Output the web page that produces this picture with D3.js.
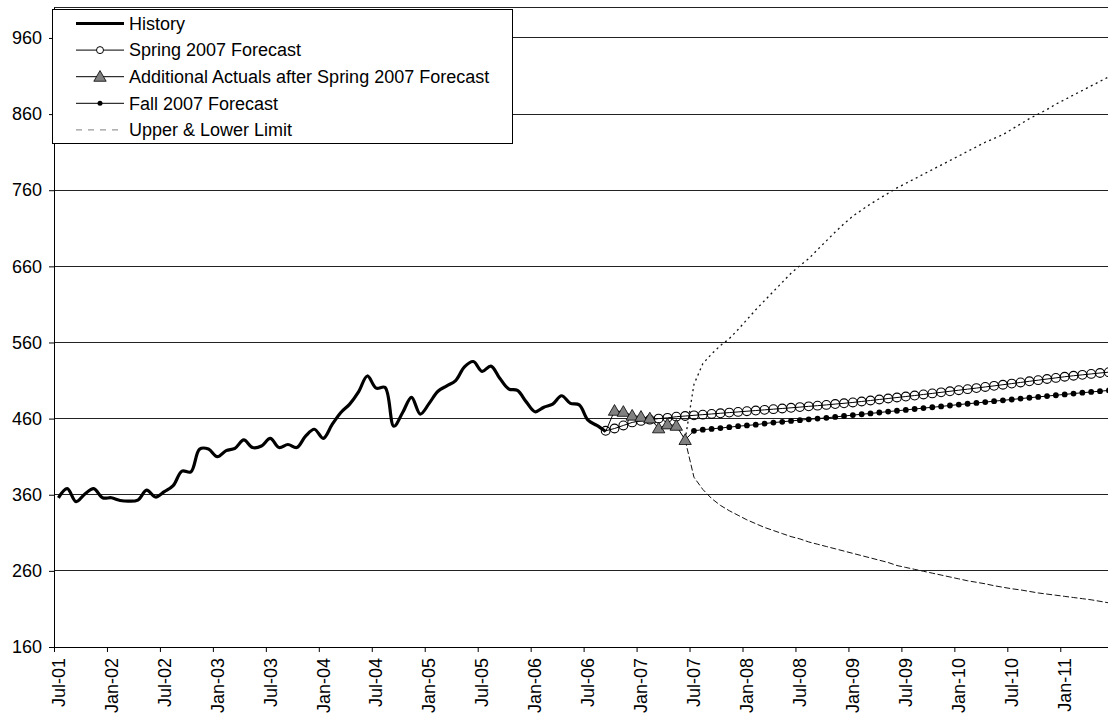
<!DOCTYPE html>
<html>
<head>
<meta charset="utf-8">
<script src="https://cdn.jsdelivr.net/npm/d3@7"></script>
<style>
  html, body { margin: 0; padding: 0; background: #fff; }
  svg { display: block; font-family: "Liberation Sans", Arial, sans-serif; }
</style>
</head>
<body>
<svg id="chart" width="1108" height="721"></svg>
<script>
// ---- data ----
const categoryCount = 120; // monthly categories Jul-01 .. Jun-11
const tickLabels = ["Jul-01","Jan-02","Jul-02","Jan-03","Jul-03","Jan-04","Jul-04","Jan-05","Jul-05","Jan-06",
                    "Jul-06","Jan-07","Jul-07","Jan-08","Jul-08","Jan-09","Jul-09","Jan-10","Jul-10","Jan-11"];
const yTicks = [160, 260, 360, 460, 560, 660, 760, 860, 960];

const historyStart = 0;
const history = [356,368,351,361,368,356,356,352.5,351.5,353,366,357,364,372,391,390,420,420,410,418,
                 421,432,422,424,434,422,426,422,437,446,434,452,468,479,495,516,500,501,450,468,
                 488,466,480,496,503,510,528,535,522,529,513,499,497,482,469,475,479,490,480,478,
                 458,451,443];

const springStart = 62;
const spring = [444,447,451,455,457,458.6,460,461,462.5,463.4,
                464.3,465.2,466.1,467.0,467.9,468.8,469.7,470.6,471.5,472.4,473.3,474.2,475.1,476.1,477.0,478.0,
                479.1,480.1,481.2,482.5,483.8,485.1,486.4,487.7,489.0,490.3,491.7,493.1,494.5,495.9,497.3,498.7,
                500.1,501.6,503.0,504.5,506.0,507.5,509.0,510.5,512.0,513.5,515.0,516.3,517.5,518.7,519.9,521.0];

const actualsStart = 62;
const actuals = [443,470.4,469,464,462.5,460.4,447.3,452.5,450.7,432];

const fallStart = 71;
const fall = [432,444.0,445.5,446.5,447.6,448.8,450.0,451.0,452.0,453.5,454.8,455.8,457.0,458.0,459.0,460.0,461.0,
              462.2,463.4,464.6,465.7,466.8,468.0,469.2,470.3,471.4,472.6,473.8,474.9,476.0,477.2,478.4,479.5,
              480.6,481.7,482.9,484.0,485.1,486.3,487.4,488.5,489.6,490.7,491.8,492.9,494.0,495.0,496.0,497.0];

const limitStart = 71;
const upper = [432,505,532,545,556,565,577,590,603,615,627,639,651,661,670,682,693.5,705,716,726,734,742,749,756,763,
               769,775,781,787,793,799,805,811,817,823,828,833,840,847,854,860,866,873,879,885,891,897,903,909];
const lower = [432,383,367,355,346,339,333,327,322,317,313,309,305,302,298,295,292,289,286,283,280,277,274,271,267,
               264.5,262,259.5,257,254.5,252,249.5,247,245,243,240.5,238.5,236.5,235,233,231,229.5,228,226.5,225,
               223.5,222,220,218,216];

const legendItems = ["History","Spring 2007 Forecast","Additional Actuals after Spring 2007 Forecast","Fall 2007 Forecast","Upper & Lower Limit"];

// ---- layout ----
const svg = d3.select("#chart");
const plotLeft = 54, plotTop = 7.5, plotBottom = 647, step = 8.827;
const plotRight = plotLeft + categoryCount * step;
const FONT = 18;

const x = d3.scaleLinear().domain([0, categoryCount]).range([plotLeft, plotRight]);
const y = d3.scaleLinear().domain([160, 1000]).range([plotBottom, plotTop]);
const cx = i => x(i + 0.5);

const toPts = (arr, start) => arr.map((v, i) => [start + i, v]);

// gridlines
svg.append("g").selectAll("line").data(yTicks.slice(1)).join("line")
  .attr("x1", plotLeft).attr("x2", plotRight).attr("y1", d => y(d)).attr("y2", d => y(d))
  .attr("stroke", "#222").attr("stroke-width", 1).attr("shape-rendering", "crispEdges");
// plot top border
svg.append("line").attr("x1", plotLeft).attr("x2", plotRight).attr("y1", y(1000)).attr("y2", y(1000))
  .attr("stroke", "#222").attr("shape-rendering", "crispEdges");

// y axis
const yAxis = d3.axisLeft(y).tickValues(yTicks).tickSize(5).tickSizeOuter(0).tickPadding(7);
const gy = svg.append("g").attr("transform", `translate(${plotLeft},0)`).call(yAxis);
gy.select(".domain").attr("stroke", "#000").attr("shape-rendering", "crispEdges")
  .attr("d", `M0,${plotBottom}V${plotTop}`);
gy.selectAll(".tick line").attr("stroke", "#000");
gy.selectAll("text").attr("font-size", FONT).attr("fill", "#000").style("font-family", "Liberation Sans, Arial, sans-serif");

// x axis
const tickIdx = tickLabels.map((_, k) => k * 6);
const xAxis = d3.axisBottom(x).tickValues(tickIdx).tickSize(5).tickSizeOuter(0).tickFormat(() => "");
const gx = svg.append("g").attr("transform", `translate(0,${plotBottom})`).call(xAxis);
gx.select(".domain").attr("stroke", "#000").attr("shape-rendering", "crispEdges");
gx.selectAll(".tick line").attr("stroke", "#000");
svg.append("g").selectAll("text").data(tickLabels).join("text")
  .attr("transform", (d, k) => `translate(${cx(k * 6)},${plotBottom + 11}) rotate(-90)`)
  .attr("text-anchor", "end").attr("dy", "0.35em")
  .attr("font-size", FONT).attr("fill", "#000").text(d => d);

// lines
const lineSmooth = d3.line().x(d => cx(d[0])).y(d => y(d[1])).curve(d3.curveCatmullRom.alpha(0.5));
const lineStraight = d3.line().x(d => cx(d[0])).y(d => y(d[1]));

svg.append("path").datum(toPts(upper, limitStart)).attr("d", lineStraight)
  .attr("fill", "none").attr("stroke", "#111").attr("stroke-width", 1.3).attr("stroke-dasharray", "2,3.5");
svg.append("path").datum(toPts(lower, limitStart)).attr("d", lineStraight)
  .attr("fill", "none").attr("stroke", "#111").attr("stroke-width", 1).attr("stroke-dasharray", "6,2.5");

svg.append("path").datum(toPts(history, historyStart)).attr("d", lineSmooth)
  .attr("fill", "none").attr("stroke", "#000").attr("stroke-width", 3.2).attr("stroke-linejoin", "round");

svg.append("path").datum(toPts(spring, springStart)).attr("d", lineStraight)
  .attr("fill", "none").attr("stroke", "#000").attr("stroke-width", 1);
svg.append("g").selectAll("circle").data(toPts(spring, springStart)).join("circle")
  .attr("cx", d => cx(d[0])).attr("cy", d => y(d[1])).attr("r", 4.4)
  .attr("fill", "none").attr("stroke", "#000").attr("stroke-width", 1.1);

svg.append("path").datum(toPts(fall, fallStart)).attr("d", lineStraight)
  .attr("fill", "none").attr("stroke", "#000").attr("stroke-width", 1);
svg.append("g").selectAll("circle").data(toPts(fall, fallStart).slice(1)).join("circle")
  .attr("cx", d => cx(d[0])).attr("cy", d => y(d[1])).attr("r", 2.9).attr("fill", "#000");

svg.append("path").datum(toPts(actuals, actualsStart)).attr("d", lineStraight)
  .attr("fill", "none").attr("stroke", "#000").attr("stroke-width", 1);
const tri = d3.symbol().type(d3.symbolTriangle).size(66);
svg.append("g").selectAll("path").data(toPts(actuals, actualsStart).slice(1)).join("path")
  .attr("d", tri).attr("transform", d => `translate(${cx(d[0])},${y(d[1]) + 1})`)
  .attr("fill", "#808080").attr("stroke", "#000").attr("stroke-width", 0.8);

// legend
const lg = svg.append("g");
lg.append("rect").attr("x", 52.5).attr("y", 9.5).attr("width", 460).attr("height", 134)
  .attr("fill", "#fff").attr("stroke", "#000").attr("stroke-width", 1);
const rowY = i => 23.5 + i * 26.6;
const lx1 = 76, lx2 = 124, lmid = 100;
legendItems.forEach((t, i) => {
  const yy = rowY(i);
  lg.append("text").attr("x", 129).attr("y", yy).attr("dy", "0.35em")
    .attr("font-size", FONT).attr("fill", "#000").text(t);
});
lg.append("line").attr("x1", lx1).attr("x2", lx2).attr("y1", rowY(0)).attr("y2", rowY(0)).attr("stroke", "#000").attr("stroke-width", 3.2);
lg.append("line").attr("x1", lx1).attr("x2", lx2).attr("y1", rowY(1)).attr("y2", rowY(1)).attr("stroke", "#000");
lg.append("circle").attr("cx", lmid).attr("cy", rowY(1)).attr("r", 3.5).attr("fill", "#fff").attr("stroke", "#000");
lg.append("line").attr("x1", lx1).attr("x2", lx2).attr("y1", rowY(2)).attr("y2", rowY(2)).attr("stroke", "#000");
lg.append("path").attr("d", tri).attr("transform", `translate(${lmid},${rowY(2) + 1})`)
  .attr("fill", "#808080").attr("stroke", "#000").attr("stroke-width", 0.8);
lg.append("line").attr("x1", lx1).attr("x2", lx2).attr("y1", rowY(3)).attr("y2", rowY(3)).attr("stroke", "#000");
lg.append("circle").attr("cx", lmid).attr("cy", rowY(3)).attr("r", 2.5).attr("fill", "#000");
lg.append("line").attr("x1", lx1).attr("x2", lx2).attr("y1", rowY(4)).attr("y2", rowY(4))
  .attr("stroke", "#808080").attr("stroke-dasharray", "6,6");
</script>
</body>
</html>
